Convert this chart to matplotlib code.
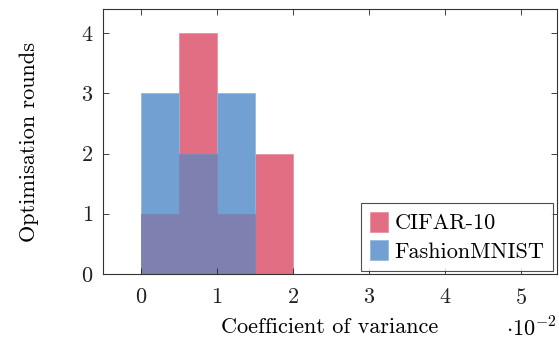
import matplotlib.pyplot as plt
import numpy as np

# bin edges in units of 10^-2, counts per bin
bin_edges = [0, 0.5, 1.0, 1.5, 2.0, 2.5, 3.0, 3.5, 4.0, 4.5, 5.0]
cifar_counts = [1, 4, 1, 2, 0, 0, 0, 0, 0, 0]
fashion_counts = [3, 2, 3, 0, 0, 0, 0, 0, 0, 0]

plt.rcParams['font.family'] = ['cmr10', 'DejaVu Serif']
plt.rcParams['mathtext.fontset'] = 'cm'
plt.rcParams['axes.formatter.use_mathtext'] = True

fig = plt.figure(figsize=(5.59, 3.39), dpi=100)
ax = fig.add_axes([0.184, 0.192, 0.812, 0.781])

edges = np.array(bin_edges)
widths = np.diff(edges)
red = '#e16e82'
blue = '#73a0d2'
mix = '#7e80b0'  # where the two transparent bars overlap
ax.bar(edges[:-1], cifar_counts, width=widths, align='edge',
       color=red, edgecolor='#e88a9a', linewidth=0.5, label='CIFAR-10')
ax.bar(edges[:-1], fashion_counts, width=widths, align='edge',
       color=blue, edgecolor='#8fb3dc', linewidth=0.5, label='FashionMNIST')
ax.bar(edges[:-1], np.minimum(cifar_counts, fashion_counts), width=widths,
       align='edge', color=mix, edgecolor=mix, linewidth=0.5)

ax.set_xlim(-0.5, 5.47)
ax.set_ylim(0, 4.4)
ax.set_xticks([0, 1, 2, 3, 4, 5])
ax.set_yticks([0, 1, 2, 3, 4])
ax.tick_params(direction='in', top=True, right=True, length=4, width=0.6,
               labelsize=16, colors='#222222', pad=7)
ax.tick_params(axis='x', pad=10)
for s in ax.spines.values():
    s.set_linewidth(0.8)
    s.set_color('#333333')
    s.set_zorder(5)

ax.set_xlabel('Coefficient of variance', fontsize=16, labelpad=7)
ax.set_ylabel('Optimisation rounds', fontsize=16, labelpad=30)
ax.text(1.0, -0.205, r'$\cdot 10^{-2}$', transform=ax.transAxes,
        ha='right', va='center', fontsize=16)

leg = ax.legend(loc='lower right', fontsize=16, frameon=True, fancybox=False,
                edgecolor='#222222', handlelength=0.8, handleheight=1.0,
                borderaxespad=0.15, handletextpad=0.3, borderpad=0.4,
                labelspacing=0.3)
leg.get_frame().set_linewidth(0.8)

fig.savefig('out.png', dpi=100)
